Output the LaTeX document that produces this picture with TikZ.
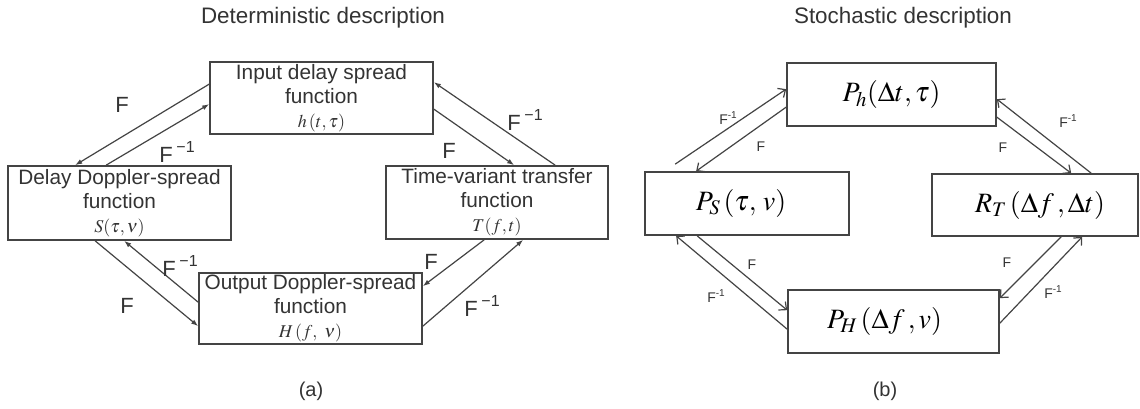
\documentclass[tikz,border=0pt]{standalone}
\usepackage{mathptmx}
\usepackage[no-math]{fontspec}
\setmainfont{Liberation Sans}
\usetikzlibrary{arrows.meta,calc}
\definecolor{ink}{HTML}{333333}
\definecolor{ln}{HTML}{444444}
\newcommand{\Finv}{F\,\raisebox{0.45em}{\fontsize{16}{16}\selectfont −1}}
\newcommand{\Finvs}{F\raisebox{0.45em}{\fontsize{10}{10}\selectfont -1}}
\tikzset{
  dbox/.style={draw=ln, line width=1.7pt, minimum width=223pt, minimum height=73pt, inner sep=0pt, align=center, text=ink, font=\fontsize{20.8}{24}\selectfont},
  sbox/.style={draw=ln, line width=1.7pt, minimum height=63pt, inner sep=0pt, text=black, font=\fontsize{28}{34}\selectfont},
  darr/.style={draw=ln, line width=1.2pt, -{Latex[length=7pt,width=5pt]}},
  sarr/.style={draw=ln, line width=1.2pt, -{Straight Barb[length=6pt,width=11pt]}},
  dlab/.style={text=ink, font=\fontsize{22}{24}\selectfont, inner sep=0pt},
  slab/.style={text=ink, font=\fontsize{14}{16}\selectfont, inner sep=0pt},
  ttl/.style={text=ink, font=\fontsize{22.4}{26}\selectfont, inner sep=0pt},
}
\newcommand{\mth}[1]{{\fontsize{18}{24}\selectfont #1}}
\begin{document}
\begin{tikzpicture}[x=1pt,y=-1pt]
\useasboundingbox[fill=white] (0,0) rectangle (1140,409);
% titles
\node[ttl] (t1) at (323,18) {Deterministic description};
\node[ttl] (t2) at (903,18) {Stochastic description};
\node[ttl, font=\fontsize{20}{24}\selectfont] (la) at (311,391) {(a)};
\node[ttl, font=\fontsize{20}{24}\selectfont] (lb) at (885,391) {(b)};
% (a) boxes
\node[dbox, minimum height=72pt] (ina) at (321.5,98) {Input delay spread\\function\\\mth{$h\,(t,\tau)$}};
\node[dbox, minimum height=74pt] (dd) at (119.5,203) {Delay Doppler-spread\\function\\\mth{$S(\tau,\nu)$}};
\node[dbox, minimum width=222pt] (tv) at (497,202.5) {Time-variant transfer\\function\\\mth{$T(f,t)$}};
\node[dbox, minimum height=71pt] (od) at (310.5,308.5) {Output Doppler-spread\\function\\\mth{$H\,(f,\ \nu)$}};
% (a) arrows
\draw[darr] ($(ina.north west)+(0,23)$) -- ($(dd.north west)+(68,0)$);
\draw[darr] ($(dd.north west)+(99,0)$) -- ($(ina.north west)+(0,43)$);
\draw[darr] ($(ina.north east)+(0,48)$) -- ($(tv.north west)+(129,0)$);
\draw[darr] ($(tv.north west)+(170,0)$) -- ($(ina.north east)+(0,21)$);
\draw[darr] ($(dd.south west)+(88,0)$) -- ($(od.north west)+(0,54)$);
\draw[darr] ($(od.north west)+(0,30)$) -- ($(dd.south west)+(117,0)$);
\draw[darr] ($(tv.south west)+(99,0)$) -- ($(od.north east)+(0,14)$);
\draw[darr] ($(od.north east)+(0,54)$) -- ($(tv.south west)+(138,0)$);
% (a) labels
\node[dlab] (a1) at (122,105) {F};
\node[dlab] (a2) at (177,152) {\Finv};
\node[dlab] (a3) at (449,151) {F};
\node[dlab] (a4) at (525,120) {\Finv};
\node[dlab] (a5) at (127,306) {F};
\node[dlab] (a6) at (180,266) {\Finv};
\node[dlab] (a7) at (431,262) {F};
\node[dlab] (a8) at (482,306) {\Finv};
% (b) boxes
\node[sbox, minimum width=209pt] (Ph) at (891.5,94.5) {$P_h(\Delta t,\tau)$};
\node[sbox, minimum width=204pt] (PS) at (747,203.5) {\hspace*{-12pt}$P_S\,(\tau,\,v)$};
\node[sbox, minimum width=206pt, minimum height=62pt] (RT) at (1035,205) {\hspace*{10pt}$R_T\,(\Delta f\,,\Delta t)$};
\node[sbox, minimum width=211pt] (PH) at (893.5,321.5) {\hspace*{-18pt}$P_H\,(\Delta f\,,v)$};
% (b) arrows
\coordinate (s1) at ($(PS.north west)+(31,-7)$);
\draw[sarr] (s1) -- ($(Ph.north west)+(0,27)$);
\draw[sarr] ($(Ph.north west)+(0,45)$) -- ($(PS.north west)+(52,0)$);
\draw[sarr] ($(Ph.north east)+(0,55)$) -- ($(RT.north west)+(140,0)$);
\draw[sarr] ($(RT.north west)+(160,0)$) -- ($(Ph.north east)+(0,37)$);
\draw[sarr] ($(PS.south west)+(53,0)$) -- ($(PH.north west)+(0,21)$);
\draw[sarr] ($(PH.north west)+(0,40)$) -- ($(PS.south west)+(32,0)$);
\draw[sarr] ($(RT.south west)+(130,0)$) -- ($(PH.north east)+(0,9)$);
\draw[sarr] ($(PH.north east)+(0,34)$) -- ($(RT.south west)+(151,0)$);
% (b) labels
\node[slab] (b1) at (728,118) {\Finvs};
\node[slab] (b2) at (761,147) {F};
\node[slab] (b3) at (1003,148) {F};
\node[slab] (b4) at (1068,121) {\Finvs};
\node[slab] (b5) at (752,265) {F};
\node[slab] (b6) at (716,296) {\Finvs};
\node[slab] (b7) at (1007,263) {F};
\node[slab] (b8) at (1053,292) {\Finvs};
\end{tikzpicture}
\end{document}
